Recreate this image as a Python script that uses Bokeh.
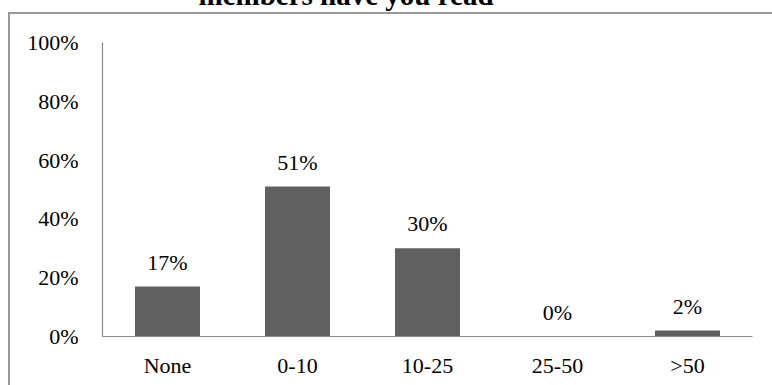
from bokeh.plotting import figure
from bokeh.models import (ColumnDataSource, Range1d, FactorRange, LabelSet,
                          FixedTicker, CustomJSTickFormatter, InlineStyleSheet)
from bokeh.embed import file_html
from bokeh.resources import INLINE

# Survey answers: share of respondents per bucket (percent)
categories = ["None", "0-10", "10-25", "25-50", ">50"]
shares = [17, 51, 30, 0, 2]
share_labels = ["17%", "51%", "30%", "0%", "2%"]
y_ticks = [0, 20, 40, 60, 80, 100]

SERIF = "Liberation Serif"
AXIS_GRAY = "#8c8c8c"
BORDER_GRAY = "#999999"
BAR_GRAY = "#606060"

# The canvas is taller than the page by LIFT pixels and placed LIFT pixels
# above the page top, so the top of the chart title runs off the page.
LIFT = 80
BORDER_X, BORDER_Y = 8, 12 + LIFT  # chart-area border corner, host pixels

source = ColumnDataSource(dict(cat=categories, share=shares, label=share_labels))

p = figure(
    width=772, height=385 + LIFT,
    x_range=FactorRange(*categories, range_padding=0),
    y_range=Range1d(0, 100),
    output_backend="svg", toolbar_location=None,
    min_border_left=102, min_border_right=20,
    min_border_top=42 + LIFT, min_border_bottom=49,
)
p.outline_line_color = None
p.background_fill_color = "white"
p.border_fill_color = "white"
p.xgrid.visible = False
p.ygrid.visible = False
p.styles = {"position": "absolute", "left": "0px", "top": f"-{LIFT}px"}

# top and left edges of the chart-area border, laid over the canvas
p.stylesheets = [InlineStyleSheet(css=f"""
:host::after {{
  content: "";
  position: absolute;
  left: {BORDER_X}px; top: {BORDER_Y}px; right: 0; bottom: 0;
  border-left: 2px solid {BORDER_GRAY};
  border-top: 2px solid {BORDER_GRAY};
  pointer-events: none;
}}
""")]

p.vbar(x="cat", top="share", width=0.5, source=source,
       fill_color=BAR_GRAY, line_color=None)

# value labels above each bar
p.add_layout(LabelSet(x="cat", y="share", text="label", source=source,
                      text_align="center", text_baseline="alphabetic",
                      y_offset=17, text_font=SERIF, text_font_size="22px",
                      text_color="black"))

# axes
for ax in (p.xaxis[0], p.yaxis[0]):
    ax.axis_line_color = AXIS_GRAY
    ax.axis_line_width = 1.2
    ax.major_tick_line_color = None
    ax.minor_tick_line_color = None
    ax.major_label_text_font = SERIF
    ax.major_label_text_font_size = "22px"
    ax.major_label_text_color = "black"

p.yaxis.ticker = FixedTicker(ticks=y_ticks)
p.yaxis.formatter = CustomJSTickFormatter(code="return tick + '%';")
p.yaxis.major_label_standoff = 18
p.xaxis.major_label_standoff = 10

# chart title
p.title.text = "members have you read"
p.title.align = "left"
p.title.offset = 96
p.title.standoff = 64
p.title.text_font = SERIF
p.title.text_font_style = "bold"
p.title.text_font_size = "29px"
p.title.text_color = "black"

open("out.html", "w").write(file_html(p, INLINE))
